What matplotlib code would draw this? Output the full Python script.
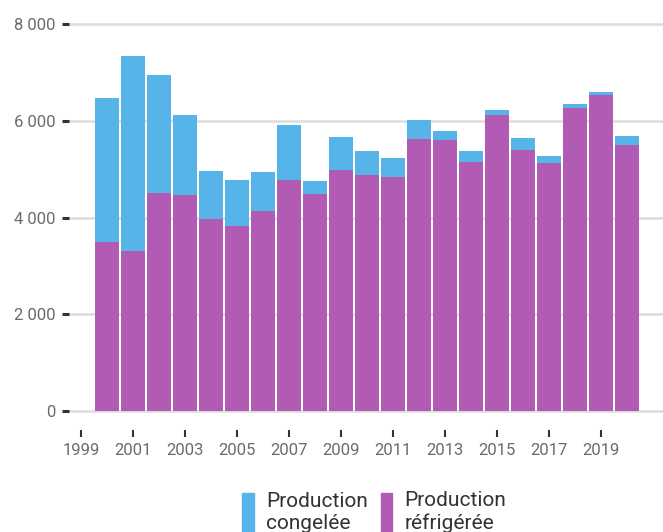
"""
Production refrigeree / congelee par annee, barres empilees.
"""

import matplotlib
matplotlib.use("Agg")
import matplotlib.pyplot as plt
from matplotlib.patches import Patch
from matplotlib.ticker import FuncFormatter

years = list(range(2000, 2021))
# valeurs
refrigeree = [3490, 3306, 4508, 4466, 3969, 3824, 4135, 4777, 4487, 4984,
              4881, 4839, 5627, 5606, 5150, 6124, 5399, 5130, 6269, 6539, 5503]
total = [6477, 7347, 6953, 6124, 4964, 4777, 4943, 5917, 4756, 5668,
         5378, 5233, 6021, 5793, 5378, 6228, 5648, 5275, 6352, 6601, 5689]
congelee = [t - r for t, r in zip(total, refrigeree)]

xticks = list(range(1999, 2020, 2))
yticks = [0, 2000, 4000, 6000, 8000]

BLUE = "#56B4E9"
PURPLE = "#B25BB4"

plt.rcParams['font.family'] = ['Roboto', 'DejaVu Sans']

fig = plt.figure(figsize=(6.63, 5.32), dpi=100)
ax = fig.add_axes([0.1041, 0.2199, 0.8959, 0.7425])

ax.bar(years, refrigeree, width=0.92, color=PURPLE, linewidth=0)
ax.bar(years, congelee, width=0.92, bottom=refrigeree, color=BLUE, linewidth=0)

ax.set_xlim(1998.54, 2021.38)
ax.set_ylim(-93, 8093)
ax.set_axisbelow(True)

# grille horizontale seulement
ax.yaxis.grid(True, color="#dcdcdc", linewidth=1.8)
ax.xaxis.grid(False)
for side in ["top", "right", "left"]:
    ax.spines[side].set_visible(False)
ax.spines["bottom"].set_position(("outward", 10.8))
ax.spines["bottom"].set_visible(False)

ax.set_yticks(yticks)
ax.yaxis.set_major_formatter(FuncFormatter(lambda v, p: f"{int(v):,}".replace(",", " ")))
ax.set_xticks(xticks)

ax.tick_params(axis="y", direction="out", length=5, width=2.2, color="#333333",
               pad=5, labelsize=12, labelcolor="#6b6b6b")
ax.tick_params(axis="x", direction="out", length=5, width=1.5, color="#333333",
               pad=4, labelsize=12, labelcolor="#6b6b6b")

handles = [Patch(color=BLUE, label="Production\ncongelée"),
           Patch(color=PURPLE, label="Production\nréfrigérée")]
leg = fig.legend(handles=handles, loc="upper left", bbox_to_anchor=(0.35, 0.096),
                 ncol=2, frameon=False, fontsize=15, borderpad=0,
                 handlelength=0.55, handleheight=2.6, handletextpad=0.58,
                 columnspacing=0.62, labelspacing=0)
for t in leg.get_texts():
    t.set_color("#333333")

fig.savefig("out.png", dpi=100)
